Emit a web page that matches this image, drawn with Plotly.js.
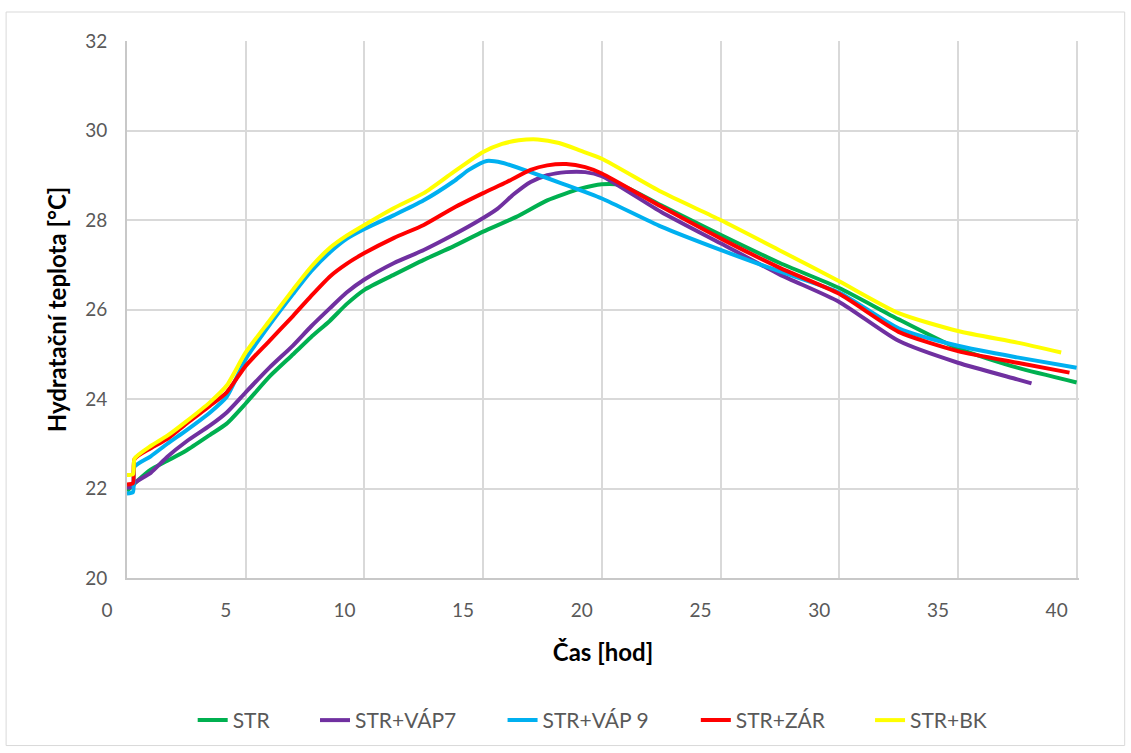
<!DOCTYPE html>
<html>
<head>
<meta charset="utf-8">
<script src="https://cdn.plot.ly/plotly-3.0.1.min.js"></script>
<style>html,body{margin:0;padding:0;background:#fff;}#chart{width:1131px;height:753px;}</style>
</head>
<body>
<div id="chart"></div>
<script>
// Series names
const seriesNames = ["STR", "STR+VÁP7", "STR+VÁP 9", "STR+ZÁR", "STR+BK"];
const seriesColors = ["#00b050", "#7030a0", "#00b0f0", "#ff0000", "#ffff00"];

// STR
const xSTR = [0, 0.5, 1, 1.7, 2.5, 3.5, 4.2, 5, 6, 7, 7.75, 8.55, 9.25, 10, 11.25, 12.5, 13.75, 15, 16.4, 17.7, 19.1, 20, 20.8, 22.5, 25, 27.5, 30, 32.5, 35, 37.5, 40];
const ySTR = [21.94, 22.2, 22.42, 22.62, 22.85, 23.2, 23.45, 23.9, 24.5, 25.0, 25.38, 25.75, 26.12, 26.44, 26.78, 27.11, 27.41, 27.74, 28.07, 28.44, 28.7, 28.8, 28.78, 28.33, 27.67, 27.04, 26.48, 25.78, 25.13, 24.7, 24.37];

// STR+VÁP7
const xVAP7 = [0, 0.25, 0.3, 1, 1.7, 2.5, 3.5, 4.2, 5, 6, 7, 7.75, 8.55, 9.25, 10, 11.25, 12.5, 13.75, 14.7, 15.6, 16.3, 17, 17.7, 18.5, 19.3, 20, 22.5, 25, 27.5, 30, 32.5, 35, 37.5, 38.1];
const yVAP7 = [22.02, 22.04, 22.12, 22.35, 22.71, 23.05, 23.41, 23.7, 24.15, 24.7, 25.2, 25.62, 26.03, 26.38, 26.67, 27.04, 27.33, 27.67, 27.95, 28.25, 28.58, 28.85, 29.0, 29.07, 29.07, 28.98, 28.18, 27.48, 26.78, 26.17, 25.3, 24.81, 24.44, 24.35];

// STR+VÁP 9
const xVAP9 = [0, 0.25, 0.32, 1, 1.7, 2.5, 3.5, 4.2, 5, 6, 7, 7.75, 8.55, 9.25, 10, 11.25, 12.5, 13.75, 14.4, 15.15, 15.8, 17, 18.3, 20, 22.5, 25, 27.5, 30, 32.5, 35, 37.5, 40];
const yVAP9 = [21.89, 21.92, 22.49, 22.72, 23.0, 23.3, 23.7, 24.05, 24.89, 25.65, 26.35, 26.85, 27.28, 27.58, 27.8, 28.11, 28.44, 28.86, 29.12, 29.32, 29.28, 29.07, 28.82, 28.48, 27.85, 27.33, 26.85, 26.38, 25.58, 25.19, 24.93, 24.7];

// STR+ZÁR
const xZAR = [0, 0.25, 0.32, 1, 1.7, 2.5, 3.5, 4.2, 5, 6, 7, 7.75, 8.55, 9.25, 10, 11.25, 12.5, 13.75, 15, 16, 17, 17.7, 18.5, 19.3, 20, 22.5, 25, 27.5, 30, 32.5, 35, 37.5, 39.7];
const yZAR = [22.09, 22.12, 22.66, 22.9, 23.11, 23.45, 23.85, 24.15, 24.74, 25.3, 25.86, 26.3, 26.74, 27.02, 27.26, 27.6, 27.89, 28.27, 28.6, 28.85, 29.12, 29.22, 29.25, 29.18, 29.04, 28.3, 27.59, 26.93, 26.35, 25.5, 25.07, 24.81, 24.59];

// STR+BK
const xBK = [0, 0.25, 0.32, 1, 1.7, 2.5, 3.5, 4.2, 5, 6, 7, 7.75, 8.55, 9.25, 10, 11.25, 12.5, 13.75, 15, 15.8, 16.5, 17.3, 18.2, 19.1, 20, 22.5, 25, 27.5, 30, 32.5, 35, 37.5, 39.35];
const yBK = [22.3, 22.32, 22.67, 22.95, 23.18, 23.5, 23.93, 24.3, 25.04, 25.75, 26.45, 26.95, 27.38, 27.65, 27.89, 28.27, 28.6, 29.07, 29.52, 29.7, 29.78, 29.8, 29.72, 29.55, 29.37, 28.63, 28.0, 27.32, 26.63, 25.92, 25.52, 25.26, 25.04];

// Axis ticks
const xTicks = [0, 5, 10, 15, 20, 25, 30, 35, 40];
const yTicks = [20, 22, 24, 26, 28, 30, 32];

const xs = [xSTR, xVAP7, xVAP9, xZAR, xBK];
const ys = [ySTR, yVAP7, yVAP9, yZAR, yBK];

const FONT = "Lato, 'Open Sans', sans-serif";

// legend placement (paper x of each legend entry)
const legendIds = ['legend', 'legend2', 'legend3', 'legend4', 'legend5'];
const legendX = [0.069, 0.1975, 0.3945, 0.5975, 0.7805];

const traces = seriesNames.map((name, i) => ({
  type: 'scatter',
  mode: 'lines',
  name: name,
  x: xs[i],
  y: ys[i],
  legend: legendIds[i],
  line: {color: seriesColors[i], width: 4, shape: 'spline', smoothing: 0.6},
  hoverinfo: 'x+y+name'
}));

const legendStyle = (x) => ({
  orientation: 'h',
  x: x, xanchor: 'left',
  y: -0.2653, yanchor: 'middle',
  bgcolor: 'rgba(0,0,0,0)',
  font: {family: FONT, size: 21, color: '#595959'}
});

const layout = {
  width: 1131,
  height: 753,
  paper_bgcolor: '#ffffff',
  plot_bgcolor: '#ffffff',
  margin: {l: 127, r: 52, t: 41, b: 173},
  font: {family: FONT, color: '#595959', size: 19},
  showlegend: true,
  xaxis: {
    range: [0, 40.1],
    tickvals: xTicks,
    ticktext: xTicks.map(String),
    ticks: '',
    ticklabelshift: -20,
    ticklabelstandoff: 14,
    showgrid: true,
    gridcolor: '#d9d9d9',
    gridwidth: 2,
    zeroline: false,
    showline: true,
    linecolor: '#c8c8c8',
    linewidth: 2,
    tickfont: {family: FONT, size: 19, color: '#595959'},
    title: {text: 'Čas [hod]', font: {family: FONT, size: 24, color: '#000000', weight: 'bold'}, standoff: 24}
  },
  yaxis: {
    range: [20, 32],
    tickvals: yTicks,
    ticktext: yTicks.map(String),
    ticks: '',
    ticklabelstandoff: 14,
    showgrid: true,
    gridcolor: '#d9d9d9',
    gridwidth: 2,
    zeroline: false,
    showline: true,
    linecolor: '#c8c8c8',
    linewidth: 2,
    tickfont: {family: FONT, size: 19, color: '#595959'},
    title: {text: 'Hydratační teplota [°C]', font: {family: FONT, size: 24, color: '#000000', weight: 'bold'}, standoff: 12}
  },
  shapes: [{
    type: 'rect', xref: 'paper', yref: 'paper',
    x0: -0.127, x1: 1.048, y0: -0.312, y1: 1.054,
    line: {color: '#d9d9d9', width: 1}, fillcolor: 'rgba(0,0,0,0)', layer: 'below'
  }]
};
legendIds.forEach((id, i) => { layout[id] = legendStyle(legendX[i]); });

Plotly.newPlot('chart', traces, layout, {displayModeBar: false, staticPlot: true});
</script>
</body>
</html>
